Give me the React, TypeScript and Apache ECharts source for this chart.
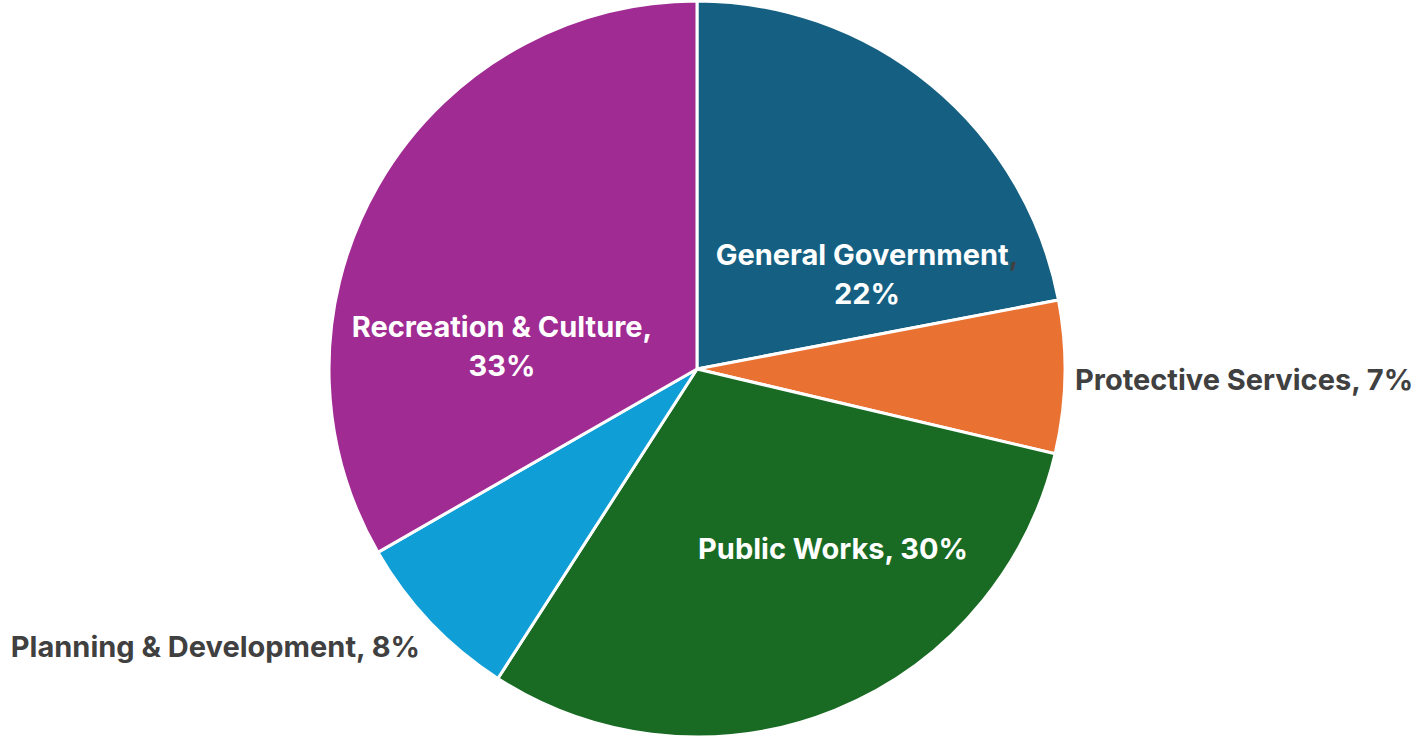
import React, { useEffect, useRef } from "react";
import * as echarts from "echarts";

const categories = [
  "General Government",
  "Protective Services",
  "Public Works",
  "Planning & Development",
  "Recreation & Culture",
];
const values = [22.0, 6.7, 30.4, 7.6, 33.3];
const colors = ["#156082", "#E97132", "#196B24", "#0F9ED5", "#A02B93"];

// label anchor positions (layout only)
const labelPos = [
  { x: 867, y: 274, align: "center" },
  { x: 1075, y: 379, align: "left" },
  { x: 833, y: 548, align: "center" },
  { x: 420, y: 646, align: "right" },
  { x: 502, y: 346, align: "center" },
];

const FONT = "Inter, 'Open Sans', sans-serif";
const FS = 29;

export default function App() {
  const ref = useRef<HTMLDivElement>(null);
  useEffect(() => {
    document.body.style.margin = "0";
    const chart = echarts.init(ref.current!, null, { renderer: "svg" });
    const rich = {
      w: { color: "#ffffff", fontSize: FS, fontWeight: "bold", fontFamily: FONT, lineHeight: 39 },
      g: { color: "#404040", fontSize: FS, fontWeight: "bold", fontFamily: FONT, lineHeight: 39 },
    };
    const data = categories.map((name, i) => {
      const pct = Math.round(values[i]);
      let formatter = "";
      if (i === 0) formatter = `{w|${name}}{g|,}\n{w|${pct}%}`;
      else if (i === 4) formatter = `{w|${name},}\n{w|${pct}%}`;
      else if (i === 2) formatter = `{w|${name}, ${pct}%}`;
      else formatter = `{g|${name}, ${pct}%}`;
      const inside = i === 0 || i === 2 || i === 4;
      return {
        name,
        value: values[i],
        itemStyle: { color: colors[i] },
        label: {
          show: true,
          position: inside ? "inside" : "outside",
          formatter,
          rich,
        },
        labelLine: { show: false },
      };
    });
    chart.setOption({
      animation: false,
      series: [
        {
          type: "pie",
          center: [697, 369],
          radius: [0, 368],
          startAngle: 90,
          clockwise: true,
          avoidLabelOverlap: false,
          itemStyle: { borderColor: "#ffffff", borderWidth: 3 },
          emphasis: { disabled: true },
          label: { show: true, rich },
          labelLine: { show: false },
          labelLayout: (params: any) => {
            const p = labelPos[params.dataIndex];
            return { x: p.x, y: p.y, align: p.align, verticalAlign: "middle" };
          },
          data,
        },
      ],
    });
    return () => chart.dispose();
  }, []);
  return (
    <div
      ref={ref}
      style={{ position: "absolute", left: 0, top: 0, width: 1417, height: 738, background: "#ffffff" }}
    />
  );
}
